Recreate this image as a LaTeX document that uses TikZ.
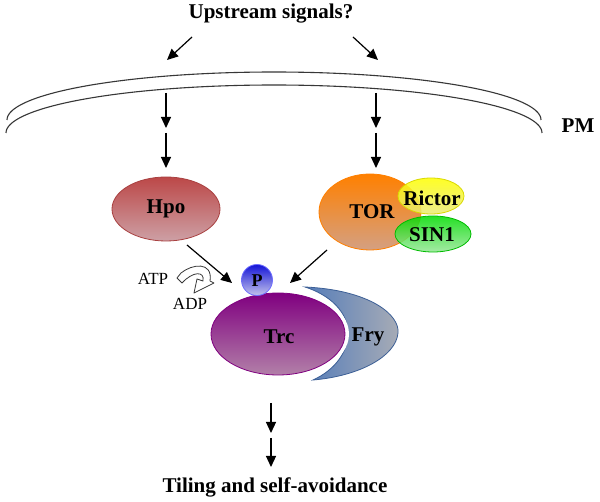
\documentclass[tikz,border=0pt]{standalone}
\usepackage{fontspec}
\setmainfont{Liberation Serif}
\usetikzlibrary{arrows.meta,shapes.geometric}
\definecolor{hpoT}{RGB}{188,72,72}
\definecolor{hpoB}{RGB}{205,160,165}
\definecolor{torT}{RGB}{255,128,0}
\definecolor{torB}{RGB}{212,160,130}
\definecolor{ricT}{RGB}{255,255,0}
\definecolor{ricB}{RGB}{235,235,120}
\definecolor{sinT}{RGB}{0,220,0}
\definecolor{sinB}{RGB}{150,232,150}
\definecolor{trcT}{RGB}{128,0,128}
\definecolor{trcB}{RGB}{178,128,168}
\definecolor{pT}{RGB}{20,20,215}
\definecolor{pB}{RGB}{195,195,235}
\definecolor{fryL}{RGB}{85,125,185}
\definecolor{fryR}{RGB}{168,172,182}
\definecolor{fryD}{RGB}{60,95,150}
\definecolor{memc}{RGB}{55,55,55}
\tikzset{
  big/.style={font=\fontsize{21}{25}\selectfont\bfseries},
  arr/.style={-{Triangle[width=10pt,length=11pt]}, line width=1.2pt},
  mem/.style={line width=1.1pt, draw=memc},
  blob/.style={ellipse, inner sep=0pt, line width=0.8pt},
}
\begin{document}
\begin{tikzpicture}[x=1pt,y=-1pt]
\useasboundingbox[fill=white] (0,0) rectangle (600,502);

% texts
\node[big] (up) at (271,14) {Upstream signals?};
\node[big] (pm) at (578,126) {PM};
\node[big] (out) at (275,487) {Tiling and self-avoidance};

% membrane
\draw[mem] plot[domain=0:180, samples=120] ({274+267*cos(\x)},{120-48*sin(\x)});
\draw[mem] plot[domain=0:180, samples=120] ({274+268*cos(\x)},{133-48*sin(\x)});

% coordinates
\coordinate (ul1) at (192,37); \coordinate (ul2) at (167,60);
\coordinate (ur1) at (353,37); \coordinate (ur2) at (378,60);
\coordinate (a1) at (166,93);  \coordinate (a2) at (166,128);
\coordinate (a3) at (166,133); \coordinate (a4) at (166,168);
\coordinate (b1) at (376,93);  \coordinate (b2) at (376,128);
\coordinate (b3) at (376,133); \coordinate (b4) at (376,168);
\coordinate (c1) at (271,403); \coordinate (c2) at (271,433);
\coordinate (c3) at (271,438); \coordinate (c4) at (271,467);
\coordinate (hs) at (187,245); \coordinate (he) at (232,283);
\coordinate (ts) at (327,250); \coordinate (te) at (290,283);

\draw[arr] (ul1) -- (ul2);
\draw[arr] (ur1) -- (ur2);
\draw[arr] (a1) -- (a2);
\draw[arr] (a3) -- (a4);
\draw[arr] (b1) -- (b2);
\draw[arr] (b3) -- (b4);
\draw[arr] (c1) -- (c2);
\draw[arr] (c3) -- (c4);

% Hpo
\node[blob, draw=hpoT!90!black, top color=hpoT, bottom color=hpoB,
      minimum width=108pt, minimum height=64pt, label={[big]center:Hpo}] (hpo) at (166,209) {};

% TOR complex
\node[blob, draw=torT, top color=torT, bottom color=torB,
      minimum width=102pt, minimum height=76pt] (tor) at (370,212) {};
\node[big] (tortxt) at (372,212) {TOR};
\node[blob, draw=sinT!85!black, top color=sinT, bottom color=sinB, fill opacity=0.85,
      minimum width=76pt, minimum height=36pt] (sin) at (433,234) {};
\node[big] (sintxt) at (432,235) {SIN1};
\node[blob, draw=ricT!85!black, top color=ricT, bottom color=ricB, fill opacity=0.85,
      minimum width=66pt, minimum height=36pt] (ric) at (431,196) {};
\node[big] (rictxt) at (432,198) {Rictor};

% Fry crescent
\path[draw=fryD, line width=0.8pt, left color=fryL, right color=fryR]
  (305,287) .. controls (370,290) and (400,315) .. (398,333)
  .. controls (396,356) and (360,376) .. (313,380)
  .. controls (335,370) and (348,352) .. (348,333)
  .. controls (348,312) and (330,295) .. (305,287) -- cycle;
\node[big] (fry) at (368,337) {Fry};

% Trc
\node[blob, draw=white, line width=4pt, minimum width=138pt, minimum height=86pt] (trcw) at (278,334) {};
\node[blob, draw=trcT, top color=trcT, bottom color=trcB,
      minimum width=134pt, minimum height=82pt] (trc) at (278,334) {};
\node[big] (trctxt) at (279,337) {Trc};

% P
\node[circle, inner sep=0pt, minimum size=31pt, draw={rgb,255:red,110;green,110;blue,255}, line width=0.8pt,
      top color=pT, bottom color=pB] (p) at (257,280) {};
\node[font=\fontsize{18}{21}\selectfont\bfseries] (ptxt) at (257,281) {P};

% arrows to P
\draw[arr] (hs) -- (he);
\draw[arr] (ts) -- (te);

% ATP / ADP
\node[font=\fontsize{17}{20}\selectfont] (atp) at (153,279) {ATP};
\node[font=\fontsize{17}{20}\selectfont] (adp) at (190,304) {ADP};
\path[draw=memc, line width=0.8pt, fill=white, line join=round]
  (177,278) -- (181,273)
  .. controls (192,264) and (213,261) .. (210,281)
  -- (214,283) -- (194,293) -- (197,279) -- (203,281)
  .. controls (205,271) and (193,271) .. (182,283) -- cycle;
\end{tikzpicture}
\end{document}
